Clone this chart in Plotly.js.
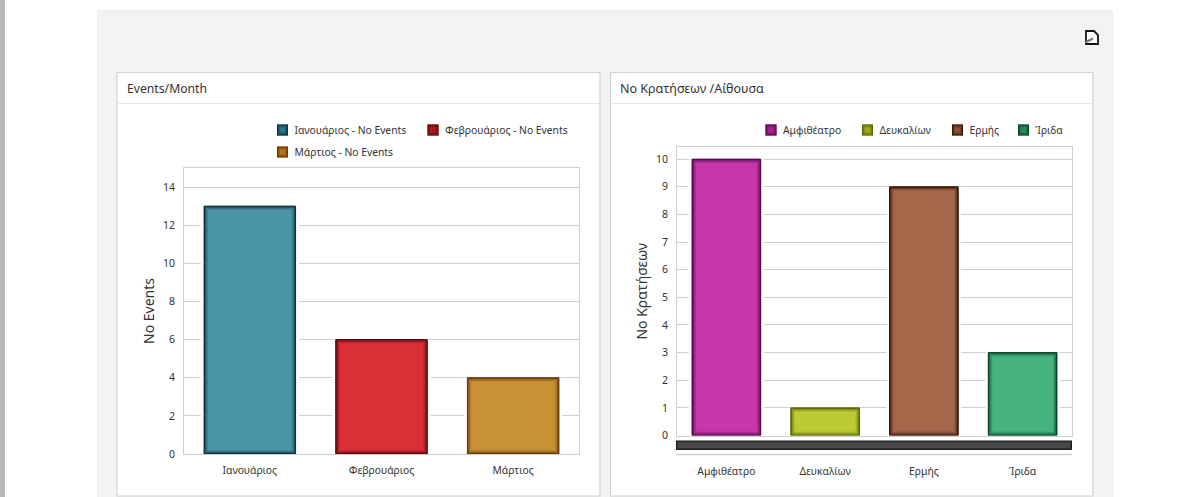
<!DOCTYPE html>
<html><head><meta charset="utf-8">
<script src="https://cdn.plot.ly/plotly-3.0.1.min.js"></script>
<style>html,body{margin:0;padding:0;background:#fff;overflow:hidden}#c{width:1189px;height:497px}</style>
</head><body><div id="c"></div>
<script>
const monthCategories = ['Ιανουάριος','Φεβρουάριος','Μάρτιος'];
const monthValues = [13,6,4];
const monthLegend = ['Ιανουάριος - No Events','Φεβρουάριος - No Events','Μάρτιος - No Events'];
const monthColors = ['#4a95a8','#d93036','#c99136'];
const monthEdges = ['#0e2c38','#560609','#633606'];
const monthSwatches = ['#2a7288','#a81a20','#b0701c'];
const roomCategories = ['Αμφιθέατρο','Δευκαλίων','Ερμής','Ίριδα'];
const roomValues = [10,1,9,3];
const roomColors = ['#c637aa','#bccb33','#a5664a','#45b47f'];
const roomEdges = ['#4c0644','#566306','#321405','#083f25'];
const roomSwatches = ['#a8208c','#9aa818','#8a5034','#258a58'];
const monthTitle = 'Events/Month', roomTitle = 'No Κρατήσεων /Αίθουσα';
const monthAxis = 'No Events', roomAxis = 'No Κρατήσεων';

const W=1189,H=497, FONT='"Noto Sans", sans-serif', TXT='#333333', GRID='#cfcfcf';
const fx=x=>x/W, fy=y=>1-y/H;
const rect=(x0,y0,x1,y1,fill,line,layer,lw)=>({type:'rect',xref:'paper',yref:'paper',x0:fx(x0),x1:fx(x1),y0:fy(y0),y1:fy(y1),fillcolor:fill,line:{color:line||fill,width:line?(lw||1):0},layer:layer||'below'});
const hline=(x0,x1,y,c,w)=>({type:'line',xref:'paper',yref:'paper',x0:fx(x0),x1:fx(x1),y0:fy(y),y1:fy(y),line:{color:c,width:w||1},layer:'below'});
const pathOf=(pts,close)=>pts.map((p,i)=>(i?'L':'M')+fx(p[0])+','+fy(p[1])).join(' ')+(close?' Z':'');

const traces=[];
function addSeries(cats,vals,cols,edges,xa,ya,names,legendStart,haloW){
  cats.forEach((c,i)=>traces.push({type:'bar',x:[c],y:[vals[i]],width:haloW,xaxis:xa,yaxis:ya,marker:{color:'#fff',line:{width:0}},showlegend:false,hoverinfo:'skip'}));
  cats.forEach((c,i)=>traces.push({type:'bar',name:names[i],x:[c],y:[vals[i]],width:0.695,xaxis:xa,yaxis:ya,
    marker:{color:cols[i],line:{color:edges[i],width:1}},showlegend:true,legend:'legend'+(legendStart+i===1?'':legendStart+i)}));
}
addSeries(monthCategories,monthValues,monthColors,monthEdges,'x','y',monthLegend,1,0.745);
addSeries(roomCategories,roomValues,roomColors,roomEdges,'x2','y2',roomCategories,4,0.76);

const legendAt=(sx,sy)=>({x:fx(sx-20),y:fy(sy),xanchor:'left',yanchor:'middle',xref:'paper',yref:'paper',orientation:'h',bgcolor:'rgba(0,0,0,0)',borderwidth:0,font:{family:FONT,size:10.3,color:TXT},itemclick:false,itemdoubleclick:false});
const axisX=(dom,anchor,len)=>({domain:dom,anchor:anchor,type:'category',fixedrange:true,showgrid:false,ticks:'outside',ticklen:len,tickcolor:'rgba(0,0,0,0)',showline:true,linecolor:GRID,linewidth:1,mirror:true,tickfont:{family:FONT,size:10.3,color:TXT},zeroline:false});
const axisY=(dom,anchor,range,dtick,title,standoff)=>({domain:dom,anchor:anchor,range:range,fixedrange:true,tick0:0,dtick:dtick,showgrid:true,gridcolor:GRID,gridwidth:1,ticks:'outside',ticklen:6,tickcolor:'rgba(0,0,0,0)',showline:true,linecolor:GRID,linewidth:1,mirror:true,zeroline:false,tickfont:{family:FONT,size:10.5,color:TXT},title:{text:title,standoff:standoff,font:{family:FONT,size:14,color:TXT}}});

const shapes=[
  rect(0,0,5,H,'#b9b9b9'),
  rect(97.5,10.5,1112.5,H+2,'#f3f3f3','#ececec'),
  rect(117,72.5,600,496,'#ffffff','#d2d2d2','below',1.2),
  rect(610.5,72.5,1093,496,'#ffffff','#d2d2d2','below',1.2),
  hline(118,599,103.5,'#e6e6e6',1),
  hline(611,1092,103.5,'#e6e6e6',1),
  rect(676,440.5,1072,450,'#1f1f1f'),
  rect(677,441.5,1071,449,'#333333'),
  rect(678,442.5,1070,448,'#484848'),
  hline(676,1072,454.5,GRID,1.5),
  {type:'path',xref:'paper',yref:'paper',path:pathOf([[1086,31],[1094,31],[1098,35],[1098,44],[1086,44]],true),fillcolor:'#ffffff',line:{color:'#111111',width:1.8},layer:'above'},
  {type:'path',xref:'paper',yref:'paper',path:pathOf([[1085,42.5],[1093,38.5]]),line:{color:'#777777',width:2},layer:'above'}
];
const ann=(x,y,t,s)=>({x:fx(x),y:fy(y),xref:'paper',yref:'paper',xanchor:'left',yanchor:'middle',text:t,showarrow:false,font:{family:FONT,size:s,color:TXT}});

const layout={width:W,height:H,margin:{l:0,r:0,t:0,b:0},paper_bgcolor:'#ffffff',plot_bgcolor:'#ffffff',barmode:'overlay',hovermode:'closest',
  xaxis:axisX([fx(184),fx(579)],'y',7),
  yaxis:axisY([fy(454),fy(168)],'x',[0,15.0],2,monthAxis,4),
  xaxis2:axisX([fx(677),fx(1072)],'y2',26),
  yaxis2:axisY([fy(435.5),fy(147)],'x2',[0,10.44],1,roomAxis,4),
  legend:legendAt(282.5,130),legend2:legendAt(433,130),legend3:legendAt(282.5,152),
  legend4:legendAt(771,130),legend5:legendAt(867.5,130),legend6:legendAt(957.5,130),legend7:legendAt(1023.5,130),
  shapes:shapes,annotations:[ann(124.5,88.5,monthTitle,12.2),ann(618,88.5,roomTitle,12.5)],showlegend:true};

const edges=monthEdges.concat(roomEdges);
const swatchFills=monthSwatches.concat(roomSwatches);
const names=monthLegend.concat(roomCategories);
const SVGNS='http://www.w3.org/2000/svg';
// Inset outlines of fading opacity give bars and swatches their bevelled edge
function bevel(path,color,opacities){
  const parent=path.parentNode;
  parent.querySelectorAll('.bevel').forEach(n=>n.remove());
  const b=path.getBBox();
  const tf=path.getAttribute('transform');
  opacities.forEach((op,k)=>{
    const r=document.createElementNS(SVGNS,'rect');
    const inset=k+0.5;
    r.setAttribute('class','bevel');
    if(tf) r.setAttribute('transform',tf);
    r.setAttribute('x',b.x+inset); r.setAttribute('y',b.y+inset);
    r.setAttribute('width',Math.max(0,b.width-2*inset)); r.setAttribute('height',Math.max(0,b.height-2*inset));
    r.setAttribute('fill','none'); r.setAttribute('stroke',color); r.setAttribute('stroke-opacity',op);
    r.setAttribute('pointer-events','none');
    parent.appendChild(r);
  });
}
function polish(gd){
  gd.querySelectorAll('.barlayer .trace').forEach(t=>{
    const d=t.__data__&&t.__data__[0]&&t.__data__[0].trace;
    const i=d?names.indexOf(d.name):-1;
    if(i<0) return;
    t.querySelectorAll('.point path').forEach(p=>bevel(p,edges[i],[0.95,0.6,0.32,0.14]));
  });
  gd.querySelectorAll('.infolayer .traces').forEach(g=>{
    const text=g.querySelector('text');
    if(!text) return;
    const i=names.indexOf(text.textContent);
    if(i<0) return;
    text.setAttribute('x',32);
    g.querySelectorAll('.legendpoints path').forEach(p=>{
      p.setAttribute('d','M5.5,5.5H-5.5V-5.5H5.5Z');
      p.style.fill=swatchFills[i]; p.style.stroke='none'; p.style.strokeWidth='0';
      bevel(p,edges[i],[0.95,0.6,0.25]);
    });
  });
}
Plotly.newPlot('c',traces,layout,{displayModeBar:false,responsive:false}).then(gd=>{
  polish(gd);
  gd.on('plotly_afterplot',()=>polish(gd));
  requestAnimationFrame(()=>polish(gd));
  setTimeout(()=>polish(gd),50);
});
</script></body></html>
